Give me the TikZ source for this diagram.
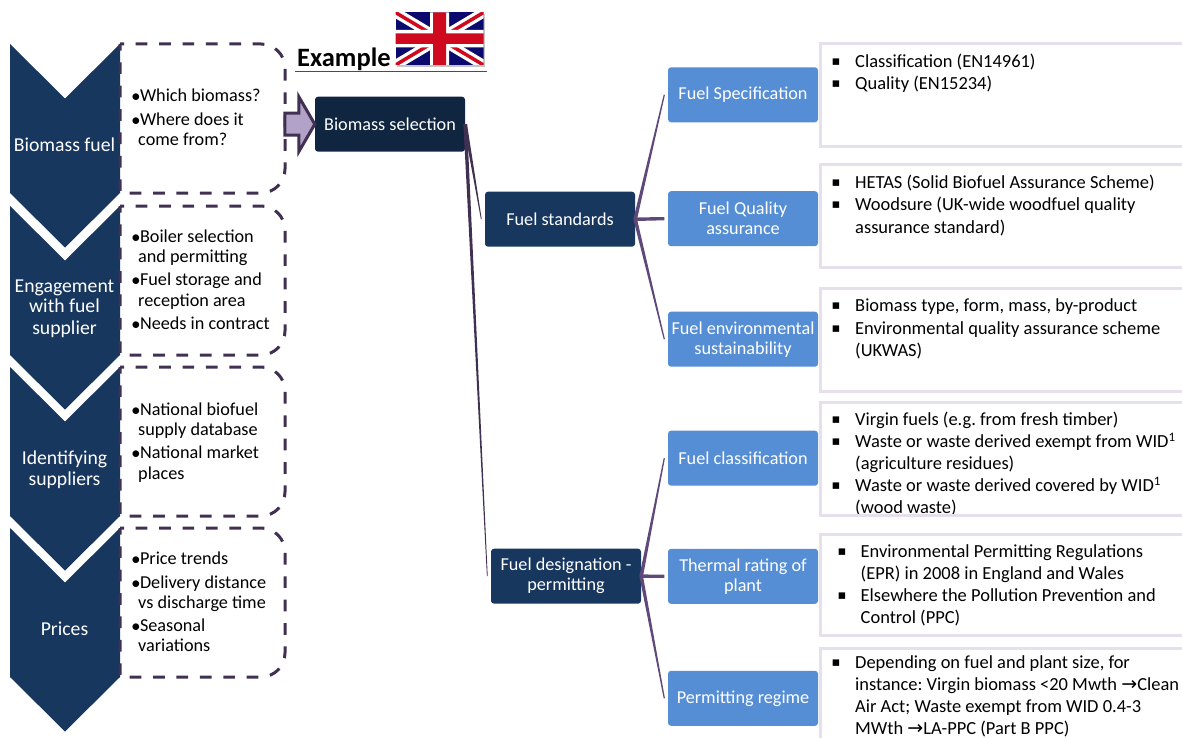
\documentclass[tikz,border=0pt]{standalone}
\usepackage{fontspec}
\setmainfont{Carlito}
\newfontfamily\symfont{DejaVu Sans}
\usetikzlibrary{calc}

\definecolor{navyblue}{HTML}{17375E}
\definecolor{darknavy}{HTML}{10253F}
\definecolor{midblue}{HTML}{558ED5}
\definecolor{plumline}{HTML}{403152}
\definecolor{linkplum}{HTML}{5F497A}
\definecolor{lilac}{HTML}{B3A2C7}
\definecolor{paleborder}{HTML}{E6E0EC}
\definecolor{flagblue}{HTML}{0A0A6E}
\definecolor{flagred}{HTML}{CF0A1E}

\tikzset{
  bodytext/.style={font=\fontsize{18.2}{21}\selectfont, text=black, inner sep=0pt},
  linetext/.style={bodytext, anchor=base west},
  righttext/.style={linetext, font=\fontsize{18.45}{21}\selectfont},
  chevlabel/.style={bodytext, text=white, anchor=base, align=center, font=\fontsize{19.7}{23}\selectfont},
  darkbox/.style={rounded corners=3pt, fill=navyblue, text=white, minimum width=150pt,
    minimum height=55pt, inner sep=0pt, align=center, font=\fontsize{18.2}{20}\selectfont},
  bluebox/.style={darkbox, fill=midblue},
  dashbox/.style={draw=plumline, line width=3pt, dash pattern=on 11.7pt off 11.7pt, dash phase=7.7pt},
  detailbox/.style={draw=paleborder, line width=3pt},
  blockarrow/.style={draw=plumline, fill=lilac, line width=3pt, miter limit=10},
}

% tapered link from east side of #2 to west side of #3, #4 is half the width at the far end
\newcommand{\linkup}[4][linkplum]{%
  \coordinate (linkend) at ($(#3.west)+(-3.5,0)$);
  \fill[#1] ($(#2.east)!1.8pt!90:(linkend)$) -- ($(linkend)!#4!-90:(#2.east)$)
    -- ($(linkend)!#4!90:(#2.east)$) -- ($(#2.east)!1.8pt!-90:(linkend)$) -- cycle;}
\newcommand{\sqdot}{{\symfont\fontsize{13}{13}\selectfont\symbol{"25AA}}}
\newcommand{\rarr}{{\symfont\fontsize{19}{19}\selectfont\symbol{"2192}}}

\begin{document}
\frenchspacing
\begin{tikzpicture}[x=1pt,y=-1pt]
  \path[use as bounding box] (0,0) rectangle (1182,738);
  \clip (0,0) rectangle (1182,738);

  % chevrons and their dashed boxes
  \foreach \ytop/\ybot in {44/193, 206/355, 367/516, 528/677} {
    \fill[navyblue] (10,\ytop) -- (65,\ytop+54.5) -- (120,\ytop) -- (120,\ybot)
      -- (65,\ybot+54.5) -- (10,\ybot) -- cycle;
    \draw[dashbox] (120,\ytop) [rounded corners=24pt] -- (285,\ytop) -- (285,\ybot)
      [sharp corners] -- (120,\ybot) -- cycle;
  }

  \node[chevlabel] (fuellabel) at (64.5,151.7) {Biomass fuel};
  \node[chevlabel] (englabela) at (64.5,292) {Engagement};
  \node[chevlabel] (englabelb) at (64.5,312.7) {with fuel};
  \node[chevlabel] (englabelc) at (64.5,334.3) {supplier};
  \node[chevlabel] (idlabela) at (64.5,464) {Identifying};
  \node[chevlabel] (idlabelb) at (64.5,485) {suppliers};
  \node[chevlabel] (pricelabel) at (64.5,635.7) {Prices};

  % left lists
  \foreach \y/\txt in {101.7/Which biomass?, 126/Where does it, 242/Boiler selection,
      285/Fuel storage and, 329/Needs in contract, 415/National biofuel,
      458.3/National market, 564/Price trends, 588/Delivery distance, 631.3/Seasonal} {
    \node[linetext] (l\y) at (131.5,\y) {$\bullet$\hspace{-0.3pt}\txt};
  }
  \foreach \y/\txt in {146/come from?, 262.3/and permitting, 306/reception area,
      435.3/supply database, 479/places, 608.3/vs discharge time, 651.3/variations} {
    \node[linetext] (c\y) at (138,\y) {\txt};
  }

  % flag
  \begin{scope}
    \fill[gray!45] (397,14) rectangle (485,67);
    \clip (395.5,12.5) rectangle (483.5,65);
    \fill[flagblue] (395.5,12.5) rectangle (483.5,65);
    \draw[white, line width=10pt] (395.5,12.5) -- (483.5,65) (395.5,65) -- (483.5,12.5);
    \draw[flagred, line width=3.5pt] (395.5,12.5) -- (483.5,65) (395.5,65) -- (483.5,12.5);
    \fill[white] (430,12.5) rectangle (449,65) (395.5,30) rectangle (483.5,47.5);
    \fill[flagred] (433,12.5) rectangle (446,65) (395.5,33.5) rectangle (483.5,44);
  \end{scope}
  \node[bodytext, anchor=base west, font=\fontsize{26.5}{30}\selectfont\bfseries] (examplelabel) at (297,66.7) {Example};
  \draw[black!70, line width=1.5pt] (295,71.5) -- (486.5,71.5);

  % tree
  \node[darkbox, fill=darknavy] (bmsel) at (390,124.2) {Biomass selection};
  \node[darkbox] (fuelstd) at (560,219.2) {Fuel standards};
  \node[darkbox] (fueldes) at (566,576.2) {Fuel designation -\\permitting};

  \node[bluebox] (fuelspec) at (743,94.8) {Fuel Specification};
  \node[bluebox] (fuelqual) at (743,218.7) {Fuel Quality\\assurance};
  \node[bluebox] (fuelenv) at (743,339.2) {Fuel environmental\\sustainability};
  \node[bluebox] (fuelclass) at (743,458.2) {Fuel classification};
  \node[bluebox] (thermal) at (743,576.3) {Thermal rating of\\plant};
  \node[bluebox] (permit) at (743,698.3) {Permitting regime};

  \linkup[plumline]{bmsel}{fuelstd}{0.4pt}
  \linkup[plumline]{bmsel}{fueldes}{0.4pt}
  \linkup{fuelstd}{fuelspec}{0.6pt}
  \linkup{fuelstd}{fuelqual}{1.6pt}
  \linkup{fuelstd}{fuelenv}{0.6pt}
  \linkup{fueldes}{fuelclass}{0.6pt}
  \linkup{fueldes}{thermal}{1.6pt}
  \linkup{fueldes}{permit}{0.6pt}

  \draw[blockarrow] (bmsel.west) -- ++(-16,-27.5) -- ++(0,16.5) -- ++(-14,0) -- ++(0,22)
    -- ++(14,0) -- ++(0,16.5) -- cycle;

  % right lists
  \foreach \y/\txt in {67.3/Classification (EN14961), 89.3/Quality (EN15234),
      188.3/HETAS (Solid Biofuel Assurance Scheme), 210.3/Woodsure (UK-wide woodfuel quality,
      311.7/{Biomass type, form, mass, by-product}, 334.3/Environmental quality assurance scheme,
      425/Virgin fuels (e.g. from fresh timber), 447.3/Waste or waste derived exempt from WID\textsuperscript{1},
      491.3/Waste or waste derived covered by WID\textsuperscript{1},
      668.3/{Depending on fuel and plant size, for}} {
    \node[righttext] (r\y) at (855,\y) {\txt};
    \node[linetext, anchor=base] (b\y) at (836,\y-2) {\sqdot};
  }
  \foreach \y/\txt in {233.3/assurance standard), 356.7/(UKWAS), 469.3/(agriculture residues),
      513.3/(wood waste), 690/instance: Virgin biomass <20 Mwth \rarr Clean,
      712.3/Air Act; Waste exempt from WID 0.4-3, 734/MWth \rarr LA-PPC (Part B PPC)} {
    \node[righttext] (s\y) at (855,\y) {\txt};
  }
  \foreach \y/\txt in {557.3/Environmental Permitting Regulations, 601.7/Elsewhere the Pollution Prevention and} {
    \node[righttext] (r\y) at (860.5,\y) {\txt};
    \node[linetext, anchor=base] (b\y) at (842,\y-2) {\sqdot};
  }
  \foreach \y/\txt in {579.3/(EPR) in 2008 in England and Wales, 623.3/Control (PPC)} {
    \node[righttext] (s\y) at (860.5,\y) {\txt};
  }

  % detail frames go over the text
  \foreach \ytop/\ybot in {44/146.5, 165/267.5, 288/391, 402/515.5, 534/635, 648/760} {
    \draw[detailbox] (1200,\ytop) -- (820,\ytop) -- (820,\ybot) -- (1200,\ybot);
  }
\end{tikzpicture}
\end{document}
